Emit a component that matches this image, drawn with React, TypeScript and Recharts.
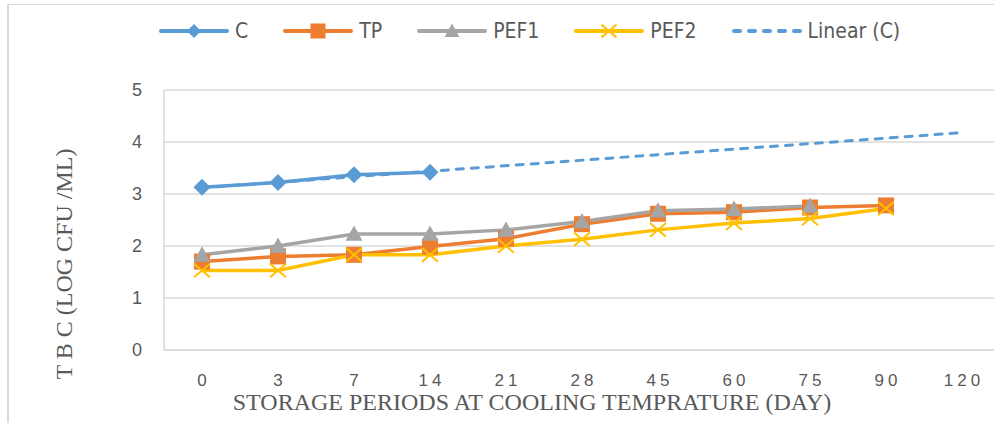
import React from "react";
import {
  LineChart,
  Line,
  XAxis,
  YAxis,
  CartesianGrid,
  Legend,
  Label,
} from "recharts";

const days = ["0", "3", "7", "14", "21", "28", "45", "60", "75", "90", "120"];
const cValues = [3.13, 3.22, 3.37, 3.42, null, null, null, null, null, null, null];
const tpValues = [1.7, 1.8, 1.83, 1.99, 2.14, 2.42, 2.62, 2.65, 2.74, 2.78, null];
const pef1Values = [1.83, 2.0, 2.23, 2.23, 2.31, 2.47, 2.68, 2.71, 2.77, null, null];
const pef2Values = [1.53, 1.53, 1.83, 1.83, 2.0, 2.13, 2.31, 2.44, 2.53, 2.72, null];
// linear trend of C, read at its two ends
const trendValues = [3.12, null, null, null, null, null, null, null, null, null, 4.18];
const yTicks = [0, 1, 2, 3, 4, 5];

const data = days.map((d, i) => ({
  day: d,
  C: cValues[i],
  TP: tpValues[i],
  PEF1: pef1Values[i],
  PEF2: pef2Values[i],
  trend: trendValues[i],
}));

const BLUE = "#5B9BD5";
const ORANGE = "#ED7D31";
const GRAY = "#A5A5A5";
const GOLD = "#FFC000";
const TEXT = "#595959";
const GRID = "#D9D9D9";
const SANS = "'Liberation Sans Narrow', 'DejaVu Sans Condensed', 'Liberation Sans', sans-serif";
const TICK_SANS = "'Liberation Sans', 'Open Sans', sans-serif";
const SERIF = "'Liberation Serif', 'DejaVu Serif', serif";

type Shape = "diamond" | "square" | "triangle" | "x";

function Marker({ shape, color, cx, cy, s }: { shape: Shape; color: string; cx: number; cy: number; s: number }) {
  if (shape === "diamond") {
    return <polygon points={`${cx},${cy - s} ${cx + s},${cy} ${cx},${cy + s} ${cx - s},${cy}`} fill={color} />;
  }
  if (shape === "square") {
    return <rect x={cx - s} y={cy - s} width={s * 2} height={s * 2} fill={color} />;
  }
  if (shape === "triangle") {
    return <polygon points={`${cx},${cy - s} ${cx + s},${cy + s * 0.8} ${cx - s},${cy + s * 0.8}`} fill={color} />;
  }
  return (
    <g stroke={color} strokeWidth={2}>
      <line x1={cx - s} y1={cy - s * 0.85} x2={cx + s} y2={cy + s * 0.85} />
      <line x1={cx - s} y1={cy + s * 0.85} x2={cx + s} y2={cy - s * 0.85} />
    </g>
  );
}

const makeDot = (shape: Shape, color: string, s: number) => (props: any) => {
  const { cx, cy, index, value } = props;
  if (cx == null || cy == null || value == null) return <g key={`d-${index}`} />;
  return (
    <g key={`d-${index}`}>
      <Marker shape={shape} color={color} cx={cx} cy={cy} s={s} />
    </g>
  );
};

const legendItems: { name: string; color: string; shape: Shape | null }[] = [
  { name: "C", color: BLUE, shape: "diamond" },
  { name: "TP", color: ORANGE, shape: "square" },
  { name: "PEF1", color: GRAY, shape: "triangle" },
  { name: "PEF2", color: GOLD, shape: "x" },
  { name: "Linear (C)", color: BLUE, shape: null },
];

function ChartLegend() {
  return (
    <div style={{ display: "flex", alignItems: "center", fontFamily: SANS, fontSize: 21, color: TEXT, height: 20 }}>
      {legendItems.map((it) => (
        <div key={it.name} style={{ display: "flex", alignItems: "center", marginRight: 34 }}>
          <svg width={72} height={20}>
            {it.shape ? (
              <line x1={3} y1={10} x2={69} y2={10} stroke={it.color} strokeWidth={4} strokeLinecap="round" />
            ) : (
              <line x1={3} y1={10} x2={69} y2={10} stroke={it.color} strokeWidth={4} strokeLinecap="round" strokeDasharray="6 9" />
            )}
            {it.shape && <Marker shape={it.shape} color={it.color} cx={36} cy={10} s={it.shape === "diamond" ? 7 : 7.5} />}
          </svg>
          <span style={{ marginLeft: 5 }}>{it.name}</span>
        </div>
      ))}
    </div>
  );
}

export default function App() {
  return (
    <div style={{ position: "absolute", left: 0, top: 0, width: 994, height: 423, overflow: "hidden", background: "#fff" }}>
      <div
        style={{
          position: "absolute",
          left: 7,
          top: 4,
          width: 1100,
          height: 600,
          borderTop: `1px solid ${GRID}`,
          borderLeft: `2px solid ${GRID}`,
        }}
      />
      <LineChart width={1010} height={423} data={data} margin={{ top: 70, right: 10, left: 0, bottom: 0 }}>
        <CartesianGrid vertical={false} stroke={GRID} strokeWidth={1.5} />
        <XAxis
          dataKey="day"
          height={73}
          padding={{ left: 38, right: 38 }}
          tickLine={false}
          tickSize={0}
          tickMargin={24}
          axisLine={{ stroke: GRID, strokeWidth: 1.5 }}
          tick={{ fill: TEXT, fontSize: 17, fontFamily: TICK_SANS, letterSpacing: 4, dx: 2 }}
          interval={0}
        >
          <Label
            content={() => (
              <text x={532} y={410} textAnchor="middle" fill={TEXT} fontSize={24} fontFamily={SERIF}>
                STORAGE PERIODS AT COOLING TEMPRATURE (DAY)
              </text>
            )}
          />
        </XAxis>
        <YAxis
          width={164}
          domain={[0, 5]}
          ticks={yTicks}
          tickLine={false}
          tickSize={0}
          tickMargin={22}
          axisLine={{ stroke: GRID, strokeWidth: 1.5 }}
          tick={{ fill: TEXT, fontSize: 18, fontFamily: TICK_SANS }}
        >
          <Label
            content={() => (
              <text
                x={0}
                y={0}
                transform="translate(72,264) rotate(-90)"
                textAnchor="middle"
                fill={TEXT}
                fontSize={24}
                fontFamily={SERIF}
              >
                T B C (LOG CFU /ML)
              </text>
            )}
          />
        </YAxis>
        <Legend
          verticalAlign="top"
          content={() => <ChartLegend />}
          wrapperStyle={{ top: 21, left: 158, width: "auto" }}
        />
        <Line
          dataKey="trend"
          stroke={BLUE}
          strokeWidth={3}
          strokeDasharray="7 8"
          strokeLinecap="round"
          dot={false}
          connectNulls
          isAnimationActive={false}
          legendType="none"
        />
        <Line dataKey="C" stroke={BLUE} strokeWidth={3.5} dot={makeDot("diamond", BLUE, 8.5)} isAnimationActive={false} />
        <Line dataKey="TP" stroke={ORANGE} strokeWidth={3.5} dot={makeDot("square", ORANGE, 8)} isAnimationActive={false} />
        <Line dataKey="PEF1" stroke={GRAY} strokeWidth={3.5} dot={makeDot("triangle", GRAY, 8.5)} isAnimationActive={false} />
        <Line dataKey="PEF2" stroke={GOLD} strokeWidth={3.5} dot={makeDot("x", GOLD, 8)} isAnimationActive={false} />
      </LineChart>
    </div>
  );
}
